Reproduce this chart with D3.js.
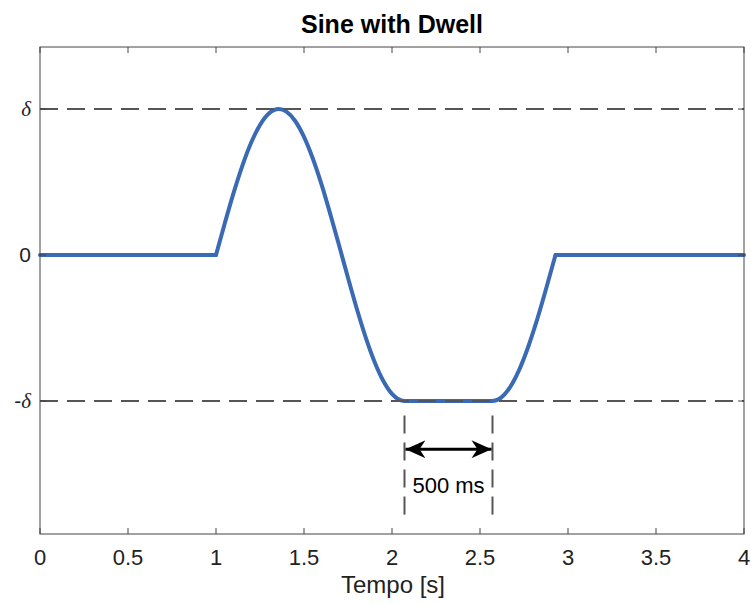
<!DOCTYPE html>
<html>
<head>
<meta charset="utf-8">
<script src="https://cdn.jsdelivr.net/npm/d3@7"></script>
<style>
  body { margin: 0; background: #fff; }
  svg { display: block; font-family: "Liberation Sans", Arial, sans-serif; }
</style>
</head>
<body>
<svg id="chart" width="751" height="605"></svg>
<script>
// Data
const timeValues = [0, 1, 1.05, 1.1, 1.15, 1.2, 1.25, 1.3, 1.357, 1.4, 1.45, 1.5, 1.55, 1.6, 1.65, 1.7, 1.75, 1.8, 1.85, 1.9, 1.95, 2.0, 2.071,
                    2.571, 2.62, 2.67, 2.72, 2.77, 2.82, 2.87, 2.929, 4];
const steerValues = [0, 0, 0.218, 0.426, 0.613, 0.771, 0.891, 0.969, 1, 0.982, 0.918, 0.809, 0.661, 0.482, 0.278, 0.063, -0.156, -0.368, -0.562, -0.729, -0.861, -0.951, -1,
                     -1, -0.977, -0.907, -0.794, -0.642, -0.46, -0.255, 0, 0];
// times where the trace has a sharp corner
const cornerTimes = [1, 2.929];
const xTicks = [0, 0.5, 1, 1.5, 2, 2.5, 3, 3.5, 4];
const yTicks = [-1, 0, 1];
const yTickLabels = ["-δ", "0", "δ"];
const dwellStart = 2.071;
const dwellEnd = 2.571;
const dwellLabel = "500 ms";

const svg = d3.select("#chart");
const margin = {top: 47, right: 7, bottom: 71, left: 40};
const width = 751 - margin.left - margin.right;
const height = 605 - margin.top - margin.bottom;

const x = d3.scaleLinear().domain([0, 4]).range([0, width]);
const y = d3.scaleLinear().domain([-1.911, 1.425]).range([height, 0]);

const g = svg.append("g").attr("transform", `translate(${margin.left},${margin.top})`);

// Curve, split at the corners so the smoothing doesn't round them
const data = timeValues.map((t, i) => ({t: t, v: steerValues[i]}));
const pieces = [];
let current = [];
data.forEach(d => {
    current.push(d);
    if (cornerTimes.includes(d.t)) {
        pieces.push(current);
        current = [d];
    }
});
pieces.push(current);

const line = d3.line()
    .x(d => x(d.t))
    .y(d => y(d.v))
    .curve(d3.curveMonotoneX);

g.selectAll(".trace")
    .data(pieces)
    .enter().append("path")
    .attr("class", "trace")
    .attr("fill", "none")
    .attr("stroke", "#3a6ab4")
    .attr("stroke-width", 4)
    .attr("stroke-linejoin", "round")
    .attr("stroke-linecap", "round")
    .attr("d", line);

// Reference dashed lines at +/- delta
[1, -1].forEach(v => {
    g.append("line")
        .attr("x1", 0).attr("x2", width)
        .attr("y1", y(v)).attr("y2", y(v))
        .attr("stroke", "#555")
        .attr("stroke-width", 2)
        .attr("stroke-dasharray", "18,9");
});

// Dwell markers
[dwellStart, dwellEnd].forEach(t => {
    g.append("line")
        .attr("x1", x(t)).attr("x2", x(t))
        .attr("y1", y(-1.1)).attr("y2", y(-1.78))
        .attr("stroke", "#555")
        .attr("stroke-width", 2)
        .attr("stroke-dasharray", "18,9");
});

svg.append("defs").append("marker")
    .attr("id", "head")
    .attr("viewBox", "0 0 20 18")
    .attr("refX", 20).attr("refY", 9)
    .attr("markerWidth", 20).attr("markerHeight", 18)
    .attr("markerUnits", "userSpaceOnUse")
    .attr("orient", "auto-start-reverse")
    .append("path")
    .attr("d", "M0,0 L20,9 L0,18 L6,9 Z")
    .attr("fill", "#000");

const arrowY = y(-1.33);
g.append("line")
    .attr("x1", x(dwellStart) + 1).attr("x2", x(dwellEnd) - 1)
    .attr("y1", arrowY).attr("y2", arrowY)
    .attr("stroke", "#000")
    .attr("stroke-width", 3)
    .attr("marker-start", "url(#head)")
    .attr("marker-end", "url(#head)");

g.append("text")
    .attr("x", x((dwellStart + dwellEnd) / 2))
    .attr("y", 493 - margin.top)
    .attr("text-anchor", "middle")
    .attr("font-size", 22)
    .attr("fill", "#000")
    .text(dwellLabel);

// Axes box
g.append("rect")
    .attr("width", width).attr("height", height)
    .attr("fill", "none")
    .attr("stroke", "#444")
    .attr("stroke-width", 1);

const tickLen = 6;
xTicks.forEach(t => {
    g.append("line").attr("x1", x(t)).attr("x2", x(t)).attr("y1", height).attr("y2", height - tickLen).attr("stroke", "#444");
    g.append("line").attr("x1", x(t)).attr("x2", x(t)).attr("y1", 0).attr("y2", tickLen).attr("stroke", "#444");
    g.append("text")
        .attr("x", x(t)).attr("y", 565 - margin.top)
        .attr("text-anchor", "middle")
        .attr("font-size", 22)
        .attr("fill", "#222")
        .text(t);
});

yTicks.forEach((v, i) => {
    g.append("line").attr("x1", 0).attr("x2", tickLen).attr("y1", y(v)).attr("y2", y(v)).attr("stroke", "#444");
    g.append("line").attr("x1", width).attr("x2", width - tickLen).attr("y1", y(v)).attr("y2", y(v)).attr("stroke", "#444");
    const label = yTickLabels[i];
    const tx = g.append("text")
        .attr("x", -9).attr("y", y(v) + 7)
        .attr("text-anchor", "end")
        .attr("font-size", 21)
        .attr("fill", "#222");
    if (label.includes("δ")) {
        if (label.startsWith("-")) tx.append("tspan").text("-");
        tx.append("tspan")
            .attr("font-family", "'Liberation Serif', 'Times New Roman', serif")
            .attr("font-style", "italic")
            .text("δ");
    } else {
        tx.text(label);
    }
});

// Labels
svg.append("text")
    .attr("x", 392).attr("y", 33)
    .attr("text-anchor", "middle")
    .attr("font-size", 25)
    .attr("font-weight", "bold")
    .attr("fill", "#000")
    .text("Sine with Dwell");

svg.append("text")
    .attr("x", 393).attr("y", 593)
    .attr("text-anchor", "middle")
    .attr("font-size", 24)
    .attr("fill", "#222")
    .text("Tempo [s]");
</script>
</body>
</html>
